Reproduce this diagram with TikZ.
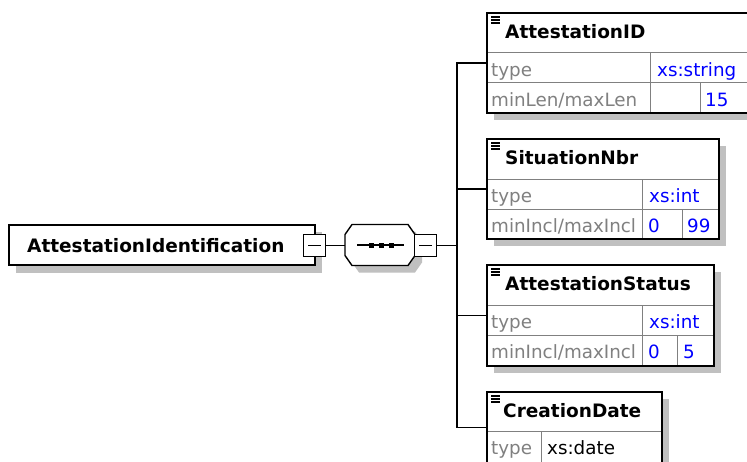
\documentclass[tikz,border=0pt]{standalone}
\usepackage{fontspec}
\setmainfont{DejaVu Sans}
\definecolor{shd}{HTML}{C0C0C0}
\definecolor{lgray}{HTML}{808080}
\definecolor{xblue}{HTML}{0000FF}
\tikzset{
  elfill/.style={fill=white, draw=none, inner sep=0pt, outer sep=0pt, anchor=north west},
  outline/.style={draw=black, line width=1.8pt},
  innerline/.style={draw=lgray, line width=1pt},
  conn/.style={draw=black, line width=1.5pt},
  minbox/.style={draw=none, inner sep=0pt, outer sep=0pt, minimum width=22pt, minimum height=22pt},
  minframe/.style={draw=black, fill=white, line width=1.3pt},
  hdr/.style={anchor=base west, inner sep=0pt, font=\fontsize{18.5}{20}\selectfont\bfseries},
  attr/.style={anchor=base west, inner sep=0pt, font=\fontsize{18.3}{20}\selectfont, text=lgray},
  val/.style={attr, text=xblue},
  plain/.style={attr, text=black},
  icon/.style={draw=black, line width=1.3pt},
}
\newcommand{\childbox}[4]{% name, top, right, bottom
  \fill[shd] (494,#2+7) rectangle (#3+7,#4+7);
  \node[elfill, minimum width={#3-487}, minimum height={#4-#2}] (#1) at (487,#2) {};
  \draw[icon] (491,#2+4) -- (500,#2+4) (491,#2+7) -- (500,#2+7) (491,#2+10) -- (500,#2+10);
}
\newcommand{\minusmark}[1]{%
  \filldraw[minframe] (#1.north west) rectangle (#1.south east);
  \draw[line width=1.3pt] (#1.west) ++(4.5,0) -- ++(13,0);
}
\begin{document}
\begin{tikzpicture}[x=1pt,y=-1pt]
\clip (0,0) rectangle (747,461);
\fill[white] (0,0) rectangle (747,461);

% root element
\fill[shd] (16,232) rectangle (322,273);
\node[elfill, minimum width=306, minimum height=40] (root) at (9,225) {};
\draw[outline] (root.north west) rectangle (root.south east);
\node[hdr] (roottxt) at (27,252) {AttestationIdentification};
\node[minbox] (m1) at (314.5,245.5) {};
\minusmark{m1}

% sequence compositor
\node[inner sep=0pt, outer sep=0pt, minimum width=70, minimum height=41] (seq) at (380,245) {};
\fill[shd] ([shift={(7,7)}]seq.north west) ++(7,0) -- ++(56,0) -- ++(7,10) -- ++(0,21) -- ++(-7,10) -- ++(-56,0) -- ++(-7,-10) -- ++(0,-21) -- cycle;
\filldraw[fill=white, draw=black, line width=1.4pt] (seq.north west) ++(7,0) -- ++(56,0) -- ++(7,10) -- ++(0,21) -- ++(-7,10) -- ++(-56,0) -- ++(-7,-10) -- ++(0,-21) -- cycle;
\draw[line width=1.3pt] (seq.center) ++(-23,0) -- ++(47,0);
\fill (seq.center) ++(-11.5,-2.5) rectangle ++(5,5);
\fill (seq.center) ++(-1.5,-2.5) rectangle ++(5,5);
\fill (seq.center) ++(8.5,-2.5) rectangle ++(5,5);
\node[minbox] (m2) at (425.5,245.5) {};
\minusmark{m2}
\coordinate (jn) at (457,245.5);

% children
\childbox{aid}{13}{760}{113}
\childbox{sit}{139}{719}{239}
\childbox{ast}{265}{714}{366}
\childbox{cd}{392}{662}{463}

% inner table lines
\draw[innerline] (487,52) -- (760,52) (487,82) -- (760,82) (650,52) -- (650,113) (700,82) -- (700,113);
\draw[innerline] (487,179) -- (719,179) (487,209) -- (719,209) (642,179) -- (642,239) (682,209) -- (682,239);
\draw[innerline] (487,305) -- (714,305) (487,335) -- (714,335) (642,305) -- (642,366) (677,335) -- (677,366);
\draw[innerline] (487,431) -- (662,431) (541,431) -- (541,463);

% outlines
\foreach \b in {aid,sit,ast,cd} {\draw[outline] (\b.north west) rectangle (\b.south east);}

% connectors
\draw[conn] (m1.east) -- (m1.east -| seq.west);
\draw[conn] (m2.east) -- (jn);
\draw[conn] (aid.west) -| (jn);
\draw[conn] (sit.west) -| (jn);
\draw[conn] (ast.west) -| (jn);
\draw[conn] (cd.west) -| (jn);

% texts
\node[hdr] (aidh) at (505,38) {AttestationID};
\node[attr] (aidt) at (491,76) {type};
\node[val] (aidv) at (657,76) {xs:string};
\node[attr] (aidl) at (491,106) {minLen/maxLen};
\node[val] (aidm) at (705,106) {15};

\node[hdr] (sith) at (505,164.5) {SituationNbr};
\node[attr] (sitt) at (491,202) {type};
\node[val] (sitv) at (649,202) {xs:int};
\node[attr] (sitl) at (491,232) {minIncl/maxIncl};
\node[val] (sita) at (648,232) {0};
\node[val] (sitb) at (687,232) {99};

\node[hdr] (asth) at (505,290.5) {AttestationStatus};
\node[attr] (astt) at (491,328.5) {type};
\node[val] (astv) at (649,328.5) {xs:int};
\node[attr] (astl) at (491,358.5) {minIncl/maxIncl};
\node[val] (asta) at (648,358.5) {0};
\node[val] (astb) at (683,358.5) {5};

\node[hdr] (cdh) at (503,417.5) {CreationDate};
\node[attr] (cdt) at (491,454.5) {type};
\node[plain] (cdv) at (547,454.5) {xs:date};
\end{tikzpicture}
\end{document}
